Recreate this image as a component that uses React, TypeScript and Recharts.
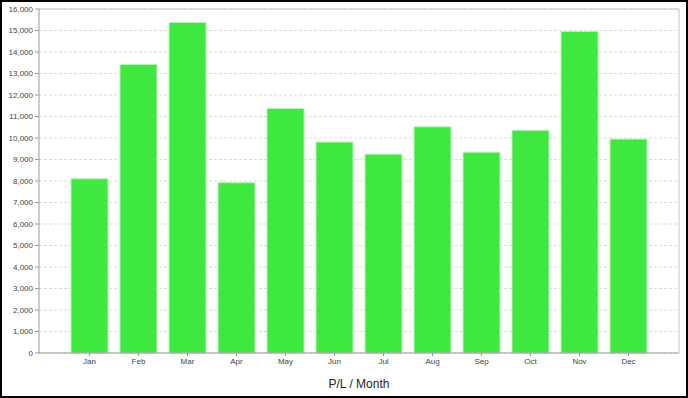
import React from 'react';
import * as R from 'recharts';
import { BarChart, Bar, XAxis, YAxis, CartesianGrid } from 'recharts';

const months = ['Jan', 'Feb', 'Mar', 'Apr', 'May', 'Jun', 'Jul', 'Aug', 'Sep', 'Oct', 'Nov', 'Dec'];
const plValues = [8100, 13420, 15370, 7920, 11370, 9810, 9250, 10520, 9340, 10360, 14950, 9950];
const yTicks = [0, 1000, 2000, 3000, 4000, 5000, 6000, 7000, 8000, 9000, 10000, 11000, 12000, 13000, 14000, 15000, 16000];

const data = months.map((m, i) => ({ month: m, pl: plValues[i] }));

const fmt = (v: number) => v.toLocaleString('en-US');

const usePlot: () => any = (R as any).usePlotArea || (() => null);

function PlotFrame() {
  const p = usePlot();
  if (!p) return null;
  const { x, y, width, height } = p;
  return (
    <g>
      <line x1={x} y1={y} x2={x + width} y2={y} stroke="#c4c4c4" />
      <line x1={x + width} y1={y} x2={x + width} y2={y + height} stroke="#c4c4c4" />
    </g>
  );
}

export default function App() {
  return (
    <div
      style={{
        position: 'fixed',
        left: 0,
        top: 0,
        width: 688,
        height: 398,
        background: '#fff',
        fontFamily: '"Liberation Sans", Arial, sans-serif',
      }}
    >
      <BarChart
        width={688}
        height={398}
        data={data}
        margin={{ top: 9, right: 9, left: 0, bottom: 0 }}
        barCategoryGap={6}
      >
        <CartesianGrid vertical={false} stroke="#dcdcdc" strokeDasharray="3 2" />
        <XAxis
          dataKey="month"
          height={45}
          padding={{ left: 26, right: 26 }}
          tick={{ fontSize: 8, fill: '#444', stroke: 'none' }}
          tickLine={{ stroke: '#999' }}
          tickSize={3}
          axisLine={{ stroke: '#999' }}
          interval={0}
          label={{ value: 'P/L / Month', position: 'insideBottom', offset: 10, fontSize: 12, fill: '#222' }}
        />
        <YAxis
          width={39}
          domain={[0, 16000]}
          ticks={yTicks}
          interval={0}
          tickFormatter={fmt}
          tick={{ fontSize: 8, fill: '#444', stroke: 'none' }}
          tickLine={{ stroke: '#999' }}
          tickSize={4}
          axisLine={{ stroke: '#999' }}
        />
        <Bar
          dataKey="pl"
          fill="#3ee83e"
          stroke="#b8f4b8"
          strokeWidth={1}
          isAnimationActive={false}
        />
        <PlotFrame />
      </BarChart>
      <div
        style={{
          position: 'absolute',
          left: 0,
          top: 0,
          width: 688,
          height: 398,
          boxSizing: 'border-box',
          border: '2px solid #000',
          pointerEvents: 'none',
        }}
      />
    </div>
  );
}
